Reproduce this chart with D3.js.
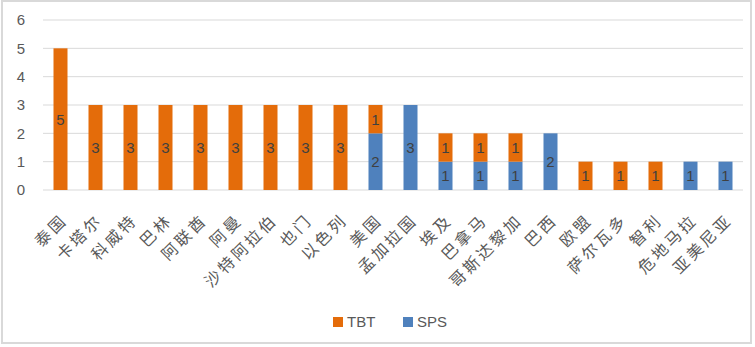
<!DOCTYPE html>
<html><head><meta charset="utf-8">
<script src="https://cdn.jsdelivr.net/npm/d3@7"></script>
<style>body{margin:0;background:#fff;} svg{display:block;}</style>
</head><body>
<svg id="c" width="755" height="347"></svg>
<script>
const categories = ["泰国","卡塔尔","科威特","巴林","阿联酋","阿曼","沙特阿拉伯","也门","以色列","美国","孟加拉国","埃及","巴拿马","哥斯达黎加","巴西","欧盟","萨尔瓦多","智利","危地马拉","亚美尼亚"];
const sps = [0,0,0,0,0,0,0,0,0,2,3,1,1,1,2,0,0,0,1,1];
const tbt = [5,3,3,3,3,3,3,3,3,1,0,1,1,1,0,1,1,1,0,0];
const yTicks = [0,1,2,3,4,5,6];
const seriesNames = ["TBT","SPS"];
const colors = {TBT:"#E46C0A", SPS:"#4F81BD"};

const svg = d3.select("#c");
svg.append("rect").attr("x",2).attr("y",1).attr("width",749).attr("height",342)
  .attr("fill","#fff").attr("stroke","#d9d9d9").attr("stroke-width",2);

const x = d3.scaleBand().domain(categories).range([43,743]).paddingInner(0.6).paddingOuter(0.3);
const y = d3.scaleLinear().domain([0,6]).range([190,20]);

// gridlines
svg.append("g").selectAll("line").data(yTicks).join("line")
  .attr("x1",43).attr("x2",743).attr("y1",d=>y(d)).attr("y2",d=>y(d))
  .attr("stroke","#d9d9d9").attr("stroke-width",1);

// y axis labels
const yAxis = d3.axisLeft(y).tickValues(yTicks).tickFormat(d3.format("d")).tickSize(0).tickPadding(0);
const ga = svg.append("g").attr("transform","translate(25,0)").call(yAxis);
ga.select(".domain").remove();
ga.selectAll("text").attr("font-family","'Liberation Sans', Arial, sans-serif").attr("font-size",15).attr("fill","#595959");

const data = categories.map((c,i)=>({c, SPS:sps[i], TBT:tbt[i]}));
const stack = d3.stack().keys(["SPS","TBT"])(data);
const gs = svg.append("g");
stack.forEach(layer=>{
  const key = layer.key;
  gs.append("g").selectAll("rect").data(layer).join("rect")
    .attr("x",d=>x(d.data.c)).attr("width",x.bandwidth())
    .attr("y",d=>y(d[1])).attr("height",d=>y(d[0])-y(d[1]))
    .attr("fill",colors[key]);
  gs.append("g").selectAll("text").data(layer.filter(d=>d[1]-d[0]>0)).join("text")
    .attr("x",d=>x(d.data.c)+x.bandwidth()/2)
    .attr("y",d=>(y(d[0])+y(d[1]))/2)
    .attr("dy","0.36em").attr("text-anchor","middle")
    .attr("font-family","'Liberation Sans', Arial, sans-serif").attr("font-size",15)
    .attr("fill","#404040").text(d=>d[1]-d[0]);
});

// x labels
svg.append("g").selectAll("text").data(categories).join("text")
  .attr("transform",d=>`translate(${x(d)+x.bandwidth()/2+8},221) rotate(-45)`)
  .attr("text-anchor","end")
  .attr("letter-spacing","3px")
  .attr("font-family","'Noto Sans CJK SC', sans-serif").attr("font-size",16)
  .attr("fill","#595959").text(d=>d);

// legend
const leg = svg.append("g");
const lx = [333,403];
seriesNames.forEach((s,i)=>{
  leg.append("rect").attr("x",lx[i]).attr("y",317).attr("width",10).attr("height",10).attr("fill",colors[s]);
  leg.append("text").attr("x",lx[i]+14).attr("y",322).attr("dy","0.36em")
    .attr("font-family","'Liberation Sans', Arial, sans-serif").attr("font-size",15)
    .attr("fill","#595959").text(s);
});
</script>
</body></html>
